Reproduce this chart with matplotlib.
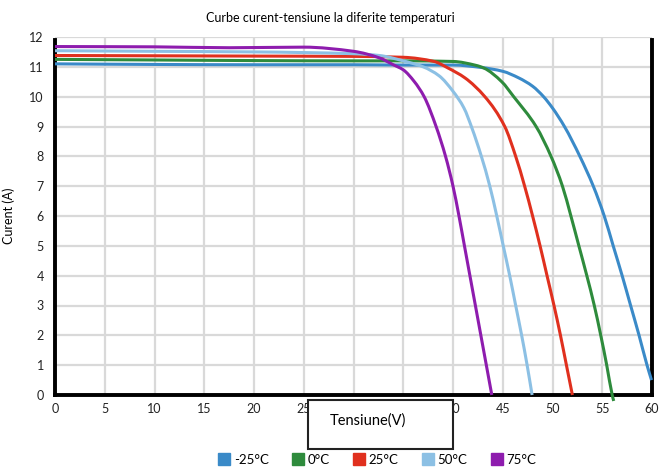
import matplotlib
matplotlib.use("Agg")
import matplotlib.pyplot as plt
import numpy as np
from matplotlib.lines import Line2D
from matplotlib.patches import Rectangle, PathPatch
from matplotlib.path import Path

plt.rcParams['font.family'] = ['Lato', 'DejaVu Sans']

title = "Curbe curent-tensiune la diferite temperaturi"
xlabel = "Tensiune(V)"
ylabel = "Curent (A)"
labels = ["-25°C", "0°C", "25°C", "50°C", "75°C"]
colors = ["#3a8ac8", "#2e8b3c", "#e0301e", "#8cc0e4", "#8e1cae"]

v_m25 = [0, 10, 20, 30, 35, 40, 42.8, 45, 46.6, 48, 49.1, 50, 51.2, 52.75, 54.1, 55.2, 56.1, 57.0, 57.85, 58.7, 59.5, 59.95]
i_m25 = [11.1, 11.08, 11.07, 11.07, 11.06, 11.06, 10.98, 10.85, 10.63, 10.35, 10.0, 9.62, 9.0, 8.0, 7.0, 6.0, 5.0, 4.0, 3.0, 2.0, 1.0, 0.5]

v_0 = [0, 10, 20, 30, 35, 40, 42.3, 43.1, 44.9, 46.1, 48.35, 49.85, 51.0, 51.85, 52.65, 53.45, 54.2, 54.85, 55.45, 56.0, 56.15]
i_0 = [11.25, 11.23, 11.21, 11.2, 11.2, 11.18, 11.05, 10.96, 10.5, 10.0, 9.0, 8.0, 7, 6, 5, 4, 3, 2, 1, 0, -0.2]

v_25 = [0, 10, 20, 30, 35, 38.1, 39.5, 41.2, 43.2, 45.2, 46.3, 47.2, 48.0, 48.75, 49.45, 50.15, 50.8, 51.4, 52.0]
i_25 = [11.38, 11.37, 11.36, 11.35, 11.32, 11.18, 10.96, 10.63, 10, 9, 8, 7, 6, 5, 4, 3, 2, 1, 0]

v_50 = [0, 10, 20, 30, 32.6, 35, 37, 38.6, 40, 41.1, 41.9, 42.85, 43.7, 44.4, 45.05, 45.7, 46.3, 46.9, 47.45, 47.95]
i_50 = [11.54, 11.52, 11.5, 11.44, 11.38, 11.2, 11.0, 10.7, 10.18, 9.62, 8.95, 8, 7, 6, 5, 4, 3, 2, 1, 0]

v_75 = [0, 10, 17.5, 25, 30, 32.6, 34, 35, 36.1, 37.1, 38.3, 39.25, 40.0, 40.6, 41.15, 41.7, 42.25, 42.8, 43.35, 43.9]
i_75 = [11.68, 11.67, 11.64, 11.66, 11.52, 11.3, 11.07, 10.9, 10.51, 10, 9, 8, 7, 6, 5, 4, 3, 2, 1, 0]

series = [(v_m25, i_m25), (v_0, i_0), (v_25, i_25), (v_50, i_50), (v_75, i_75)]

xticks = list(range(0, 61, 5))
yticks = list(range(0, 13))


def pchip_path(x, y):
    """Shape-preserving (Fritsch-Carlson) cubic Bezier path through the data points."""
    x = np.asarray(x, float)
    y = np.asarray(y, float)
    h = np.diff(x)
    delta = np.diff(y) / h
    n = len(x)
    d = np.zeros(n)
    for k in range(1, n - 1):
        if delta[k - 1] * delta[k] <= 0:
            d[k] = 0.0
        else:
            w1 = 2 * h[k] + h[k - 1]
            w2 = h[k] + 2 * h[k - 1]
            d[k] = (w1 + w2) / (w1 / delta[k - 1] + w2 / delta[k])
    d[0] = delta[0]
    d[-1] = delta[-1]
    verts = [(x[0], y[0])]
    codes = [Path.MOVETO]
    for k in range(n - 1):
        verts += [(x[k] + h[k] / 3, y[k] + d[k] * h[k] / 3),
                  (x[k + 1] - h[k] / 3, y[k + 1] - d[k + 1] * h[k] / 3),
                  (x[k + 1], y[k + 1])]
        codes += [Path.CURVE4] * 3
    return Path(verts, codes)


fig = plt.figure(figsize=(6.59, 4.68), dpi=100)
ax = fig.add_axes([55/659, 1-395/468, (652-55)/659, (395-37)/468])

for (v, i), c in zip(series, colors):
    ax.add_patch(PathPatch(pchip_path(v, i), facecolor='none', edgecolor=c,
                           lw=2.2, clip_on=False, zorder=3, capstyle='butt'))

ax.set_xlim(0, 60)
ax.set_ylim(0, 12)
ax.set_xticks(xticks)
ax.set_yticks(yticks)
ax.grid(True, color='#d9d9d9', lw=1.6, zorder=0)
ax.set_axisbelow(True)
ax.tick_params(length=0, labelsize=9, pad=6, colors='#222222')
ax.tick_params(axis='y', pad=8)
for s in ['left', 'bottom', 'right']:
    ax.spines[s].set_color('black')
    ax.spines[s].set_linewidth(2.8)
ax.spines['top'].set_visible(False)
ax.spines['right'].set_bounds(0, 11.9)
ax.spines['left'].set_bounds(0, 11.9)

ax.set_ylabel(ylabel, fontsize=9, labelpad=10)
fig.text(330/659, 1-18/468, title, ha='center', va='center', fontsize=9)

# x-label box
fig.patches.append(Rectangle((308/659, 1-449/468), (453-308)/659, (449-400)/468,
                             transform=fig.transFigure, facecolor='white',
                             edgecolor='#222222', lw=1.5, zorder=5))
fig.text(330/659, 1-421/468, xlabel, ha='left', va='center', fontsize=10.5, zorder=6)

handles = [Line2D([], [], marker='s', color=c, ls='none', markersize=9) for c in colors]
fig.legend(handles, labels, loc='center', bbox_to_anchor=(0.571, 1-460/468), ncol=5,
           frameon=False, fontsize=9.5, handletextpad=0.1, columnspacing=1.65,
           handlelength=1.2)

fig.savefig("out.png", dpi=100)
